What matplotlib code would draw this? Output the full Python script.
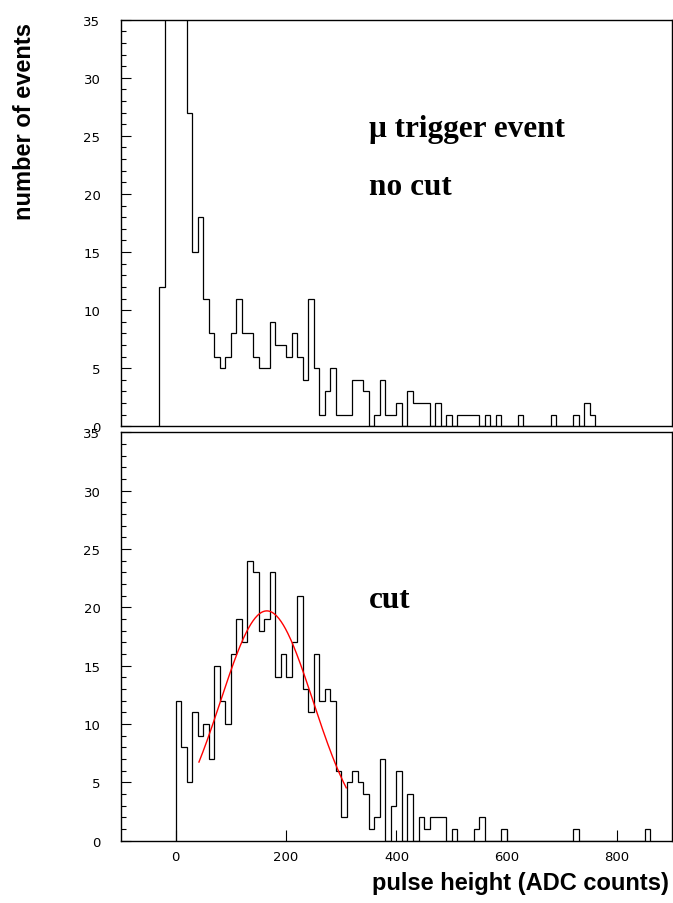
import numpy as np
import matplotlib
matplotlib.use("Agg")
import matplotlib.pyplot as plt
from matplotlib.ticker import MultipleLocator

# binning of both histograms (ADC counts)
bin_width = 10
top_first_bin = -30
bot_first_bin = 0

# muon trigger events, no cut (bins -20..10 run off the top of the frame)
top_counts = [12, 48, 70, 62, 40, 27, 15, 18, 11, 8,
              6, 5, 6, 8, 11, 8, 8, 6, 5, 5,
              9, 7, 7, 6, 8, 6, 4, 11, 5, 1,
              3, 5, 1, 1, 1, 4, 4, 3, 0, 1,
              4, 1, 1, 2, 0, 3, 2, 2, 2, 0,
              2, 0, 1, 0, 1, 1, 1, 1, 0, 1,
              0, 1, 0, 0, 0, 1, 0, 0, 0, 0,
              0, 1, 0, 0, 0, 1, 0, 2, 1]

# after the cut
bot_counts = [12, 8, 5, 11, 9, 10, 7, 15, 12, 10,
              16, 19, 17, 24, 23, 18, 19, 23, 14, 16,
              14, 17, 21, 13, 11, 16, 12, 13, 12, 6,
              2, 5, 6, 5, 4, 1, 2, 7, 0, 3,
              6, 0, 4, 0, 2, 1, 2, 2, 2, 0,
              1, 0, 0, 0, 1, 2, 0, 0, 0, 1,
              0, 0, 0, 0, 0, 0, 0, 0, 0, 0,
              0, 0, 1, 0, 0, 0, 0, 0, 0, 0,
              0, 0, 0, 0, 0, 1]

# gaussian fit drawn over the cut histogram
fit_amp = 19.7
fit_mean = 165.0
fit_sigma = 84.0
fit_range = (42, 309)

x_ticks = [0, 200, 400, 600, 800]

top_edges = top_first_bin + bin_width * np.arange(len(top_counts) + 1)
bot_edges = bot_first_bin + bin_width * np.arange(len(bot_counts) + 1)

fig = plt.figure(figsize=(6.73, 9.04), dpi=100)
left, width = 0.1792, 0.8198
ax_top = fig.add_axes([left, 0.5273, width, 0.4498])
ax_bot = fig.add_axes([left, 0.0689, width, 0.4517])

for ax in (ax_top, ax_bot):
    ax.set_xlim(-100, 900)
    ax.set_ylim(0, 35)
    ax.yaxis.set_major_locator(MultipleLocator(5))
    ax.yaxis.set_minor_locator(MultipleLocator(1))
    ax.tick_params(axis='y', which='both', direction='in', left=True, right=False,
                   width=0.8, pad=14.5, labelsize=9.5)
    ax.tick_params(axis='y', which='major', length=7)
    ax.tick_params(axis='y', which='minor', length=3.6)
    for sp in ax.spines.values():
        sp.set_linewidth(1.0)

ax_top.stairs(top_counts, top_edges, baseline=0, color='black', lw=0.9)
ax_bot.stairs(bot_counts, bot_edges, baseline=0, color='black', lw=0.9)

xf = np.linspace(fit_range[0], fit_range[1], 200)
yf = fit_amp * np.exp(-0.5 * ((xf - fit_mean) / fit_sigma) ** 2)
ax_bot.plot(xf, yf, color='red', lw=1.0)

ax_top.tick_params(axis='x', bottom=False, labelbottom=False)
ax_bot.set_xticks(x_ticks)
ax_bot.tick_params(axis='x', direction='in', length=8, width=0.8, pad=7, labelsize=9.5)

txt = dict(family='Liberation Serif', weight='bold', fontsize=22.5, va='baseline')
ax_top.text(350, 25, 'μ trigger event', **txt)
ax_top.text(350, 20, 'no cut', **txt)
ax_bot.text(350, 20, 'cut', **txt)

lab = dict(family='Liberation Sans', weight='bold', fontsize=17)
fig.text(25 / 673, 1 - 121 / 904, 'number of events', rotation=90,
         ha='center', va='center', **lab)
fig.text(669 / 673, 1 - 890 / 904, 'pulse height (ADC counts)',
         ha='right', va='baseline', **lab)

fig.savefig('out.png', dpi=100)
